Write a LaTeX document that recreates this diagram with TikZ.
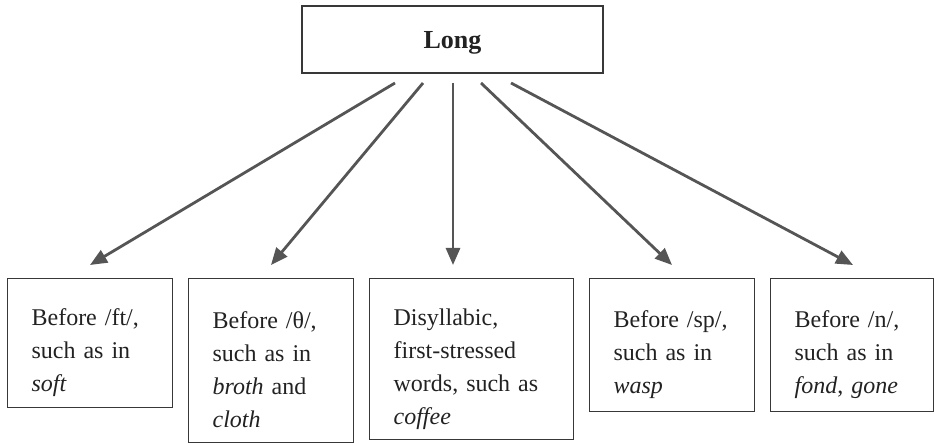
\documentclass[tikz,border=0pt]{standalone}
\usepackage{fontspec}
\setmainfont{Liberation Serif}
\usetikzlibrary{arrows.meta}
\definecolor{boxline}{HTML}{383838}
\definecolor{arrowcol}{HTML}{555555}
\definecolor{txt}{HTML}{222222}
\newcommand\topgap{\rule{0pt}{36pt}}
\tikzset{
  topbox/.style={draw=boxline, line width=1.3pt, minimum width=301pt, minimum height=67pt,
    inner sep=0pt, text depth=0pt, text=txt, font=\fontsize{26}{30}\selectfont\bfseries},
  leafbox/.style={draw=boxline, line width=1.2pt, anchor=north west, inner xsep=24pt, inner ysep=0pt,
    align=left, text=txt, font=\fontsize{24}{33}\selectfont},
  conn/.style={draw=arrowcol, line width=2.8pt, -{Triangle[length=17pt,width=14pt]}}
}
\begin{document}
\begin{tikzpicture}[x=1pt,y=-1pt]
\useasboundingbox (0,0) rectangle (934,443);
\node[topbox] (long) at (452.5,39.5) {Long};
\node[leafbox, text width=117pt, minimum height=129pt] (b1) at (7,278)
  {\topgap Before /ft/,\\ such as in\\ \textit{soft}};
\node[leafbox, text width=117pt, minimum height=164pt] (b2) at (188,278)
  {\topgap Before /θ/,\\ such as in\\ \textit{broth} and\\ \textit{cloth}};
\node[leafbox, text width=156pt, minimum height=161pt] (b3) at (369,278)
  {\topgap Disyllabic,\\ first-stressed\\ words, such as\\ \textit{coffee}};
\node[leafbox, text width=117pt, minimum height=133pt] (b4) at (589,278)
  {\topgap Before /sp/,\\ such as in\\ \textit{wasp}};
\node[leafbox, text width=115pt, minimum height=133pt] (b5) at (770,278)
  {\topgap Before /n/,\\ such as in\\ \textit{fond}, \textit{gone}};
\coordinate (s1) at (395,83);
\coordinate (s2) at (423,83);
\coordinate (s3) at (453,83);
\coordinate (s4) at (481,83);
\coordinate (s5) at (511,83);
\coordinate (t1) at (90,265);
\coordinate (t2) at (271,265);
\coordinate (t3) at (453,265);
\coordinate (t4) at (672,265);
\coordinate (t5) at (853,265);
\draw[conn] (s1) -- (t1);
\draw[conn] (s2) -- (t2);
\draw[conn] (s3) -- (t3);
\draw[conn] (s4) -- (t4);
\draw[conn] (s5) -- (t5);
\end{tikzpicture}
\end{document}
